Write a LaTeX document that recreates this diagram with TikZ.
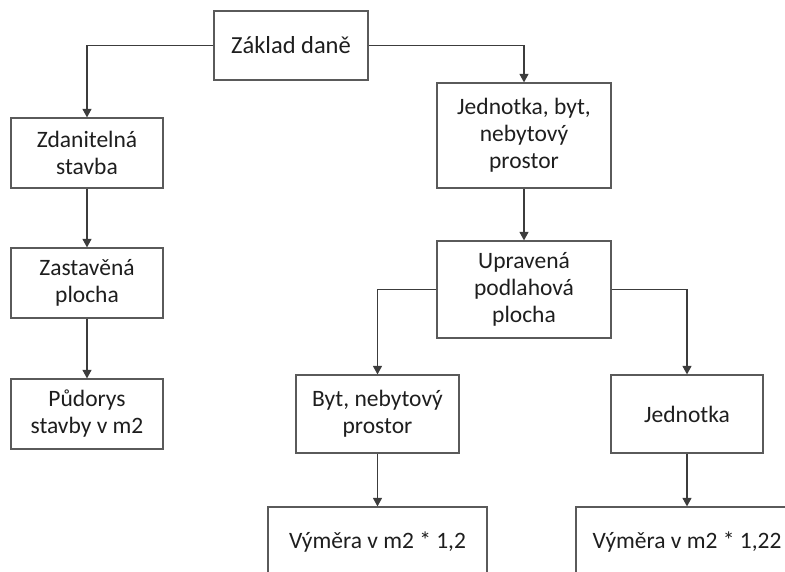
\documentclass[tikz,border=0pt]{standalone}
\usepackage{fontspec}
\setmainfont{Carlito}
\usetikzlibrary{arrows.meta}
\definecolor{boxline}{RGB}{90,90,90}
\definecolor{conline}{RGB}{60,60,60}
\definecolor{txt}{RGB}{30,30,30}
\tikzset{
  box/.style={draw=boxline, line width=1.2pt, fill=white, align=center, inner sep=0pt,
    text=txt, font=\fontsize{23.5}{27}\selectfont},
  arr/.style={draw=conline, line width=1.1pt, -{Triangle[width=9pt,length=8.5pt]}}
}
\begin{document}
\begin{tikzpicture}[x=1pt,y=-1pt]
\useasboundingbox (0,0) rectangle (785,571);
\clip (0,0) rectangle (785,571);
\node[box, minimum width=154pt, minimum height=69pt, font=\fontsize{24.5}{28}\selectfont] (zaklad) at (291,45.5) {Základ daně};
\node[box, minimum width=152pt, minimum height=70pt] (zdan) at (87,153) {Zdanitelná\\stavba};
\node[box, minimum width=152pt, minimum height=70pt] (zast) at (87,283) {Zastavěná\\plocha};
\node[box, minimum width=152pt, minimum height=70pt] (pud) at (87,414) {Půdorys\\stavby v m2};
\node[box, minimum width=174pt, minimum height=105pt] (jed) at (524,135.5) {Jednotka, byt,\\nebytový\\prostor};
\node[box, minimum width=174pt, minimum height=97pt] (upr) at (524,289.5) {Upravená\\podlahová\\plocha};
\node[box, minimum width=163pt, minimum height=78pt] (byt) at (377.5,414) {Byt, nebytový\\prostor};
\node[box, minimum width=152pt, minimum height=78pt] (jedn) at (687,414) {Jednotka};
\node[box, minimum width=219pt, minimum height=70pt] (vym1) at (377.5,542) {Výměra v m2 * 1,2};
\node[box, minimum width=222pt, minimum height=70pt] (vym2) at (687,542) {Výměra v m2 * 1,22};
\draw[arr] (zaklad.west) -| (zdan.north);
\draw[arr] (zaklad.east) -| (jed.north);
\draw[arr] (zdan.south) -- (zast.north);
\draw[arr] (zast.south) -- (pud.north);
\draw[arr] (jed.south) -- (upr.north);
\draw[arr] (upr.west) -| (byt.north);
\draw[arr] (upr.east) -| (jedn.north);
\draw[arr] (byt.south) -- (vym1.north);
\draw[arr] (jedn.south) -- (vym2.north);
\end{tikzpicture}
\end{document}
